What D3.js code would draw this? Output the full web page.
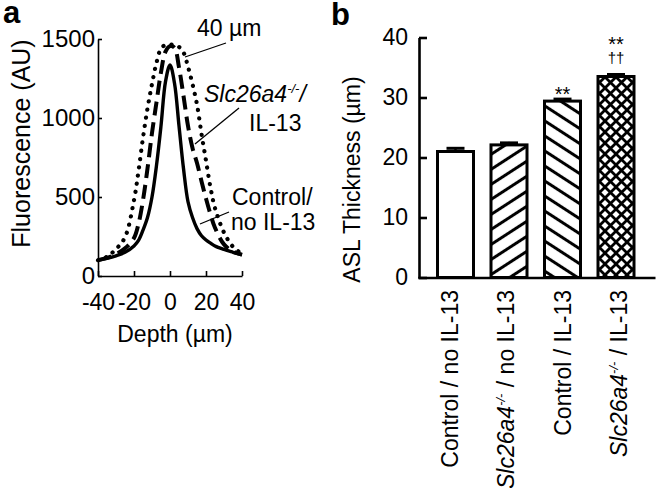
<!DOCTYPE html>
<html><head><meta charset="utf-8">
<script src="https://cdn.jsdelivr.net/npm/d3@7"></script>
<style>
html,body{margin:0;padding:0;background:#fff;}
svg{display:block;}
text{font-family:Arial,"Liberation Sans",Helvetica,sans-serif;fill:#000;}
</style></head>
<body><svg id="c" width="659" height="488"></svg>
<script>
// ---------- Panel a data ----------
const depth = [-40,-35,-30,-25,-20,-17.5,-15,-12.5,-10,-7.5,-5,-2.5,0,2.5,5,7.5,10,12.5,15,17.5,20,22.5,25,30,35,40];
const controlNoIL13 = [100,112,128,150,190,225,290,370,500,700,950,1230,1335,1220,950,680,470,370,300,255,228,208,190,168,150,133];
const slcIL13 = [100,115,138,175,240,330,480,680,905,1100,1290,1420,1455,1445,1320,1140,950,810,715,600,490,390,305,200,155,135];
const thick40 = [100,122,170,245,480,665,875,1060,1215,1350,1440,1462,1465,1462,1450,1415,1325,1215,1085,900,730,560,430,275,185,140];
const aYTicks = [0,500,1000,1500];
const aXTicks = [-40,-20,0,20,40];

// ---------- Panel b data ----------
const categories = ["ctrlNo","slcNo","ctrlIL","slcIL"];
const aslMean = [21.0,22.1,29.4,33.5];
const aslErr = [0.7,0.5,0.5,0.5];
const bYTicks = [0,10,20,30,40];
const stars = ["","","**","**"];
const daggers = ["","","","††"];
const patterns = ["none","fwd","back","cross"];

const svg = d3.select("#c");
svg.append("rect").attr("width",659).attr("height",488).attr("fill","#fff");

// ---------- patterns ----------
const defs = svg.append("defs");
function linePattern(id, angle, gap){
  const p = defs.append("pattern").attr("id",id).attr("patternUnits","userSpaceOnUse")
    .attr("width",10).attr("height",gap).attr("patternTransform",`rotate(${angle})`);
  p.append("rect").attr("width",10).attr("height",gap).attr("fill","#fff");
  p.append("line").attr("x1",0).attr("x2",10).attr("y1",gap/2).attr("y2",gap/2)
    .attr("stroke","#000").attr("stroke-width",3);
}
linePattern("fwd",-33,12.6);
linePattern("back",33,12.6);
{
  const p = defs.append("pattern").attr("id","cross").attr("patternUnits","userSpaceOnUse")
    .attr("width",11).attr("height",11);
  p.append("rect").attr("width",11).attr("height",11).attr("fill","#fff");
  p.append("path").attr("d","M-1,-1L12,12M-1,12L12,-1").attr("stroke","#000").attr("stroke-width",2.8);
}

// ---------- Panel a ----------
const xA = d3.scaleLinear().domain([-40,40]).range([98,242]);
const yA = d3.scaleLinear().domain([0,1500]).range([276,39]);

const gA = svg.append("g");
const axYA = gA.append("g").attr("transform",`translate(${xA(-40)},0)`)
  .call(d3.axisLeft(yA).tickValues(aYTicks).tickSizeInner(-4).tickSizeOuter(0).tickPadding(3).tickFormat(d3.format("d")));
const axXA = gA.append("g").attr("transform",`translate(0,${yA(0)})`)
  .call(d3.axisBottom(xA).tickValues(aXTicks).tickSizeInner(-5).tickSizeOuter(0).tickPadding(18).tickFormat(d=>String(d)));
[axYA,axXA].forEach(g=>{
  g.selectAll("path,line").attr("stroke","#000").attr("stroke-width",1.6);
  g.selectAll("text").attr("font-size",23).attr("font-family",'Arial,"Liberation Sans",sans-serif').attr("fill","#000");
});
axYA.selectAll("text").attr("font-size",24);

const lineGen = d3.line().x((d,i)=>xA(depth[i])).y(d=>yA(d)).curve(d3.curveCatmullRom.alpha(0.5));
gA.append("path").attr("d",lineGen(thick40)).attr("fill","none").attr("stroke","#000")
  .attr("stroke-width",4.2).attr("stroke-linecap","round").attr("stroke-dasharray","0.1 8.2");
gA.append("path").attr("d",lineGen(slcIL13)).attr("fill","none").attr("stroke","#000")
  .attr("stroke-width",4).attr("stroke-dasharray","14 7");
gA.append("path").attr("d",lineGen(controlNoIL13)).attr("fill","none").attr("stroke","#000")
  .attr("stroke-width",3.4);

// annotations panel a
gA.append("text").attr("x",197).attr("y",36).attr("font-size",23).text("40 µm");
gA.append("line").attr("x1",226).attr("y1",43).attr("x2",185).attr("y2",57).attr("stroke","#000").attr("stroke-width",1.3);
const tSlc = gA.append("text").attr("x",204).attr("y",102).attr("font-size",23).attr("font-style","italic");
tSlc.append("tspan").text("Slc26a4");
tSlc.append("tspan").attr("font-size",13).attr("dy",-9).text("-/-");
tSlc.append("tspan").attr("dy",9).text("/");
gA.append("text").attr("x",249).attr("y",131).attr("font-size",23).text("IL-13");
gA.append("line").attr("x1",239).attr("y1",108).attr("x2",195).attr("y2",144).attr("stroke","#000").attr("stroke-width",1.3);
gA.append("text").attr("x",232).attr("y",205).attr("font-size",23).text("Control/");
gA.append("text").attr("x",231).attr("y",230).attr("font-size",23).text("no IL-13");
gA.append("line").attr("x1",229).attr("y1",212).attr("x2",200).attr("y2",224).attr("stroke","#000").attr("stroke-width",1.3);

gA.append("text").attr("transform",`translate(30,${(yA(0)+yA(1500))/2 - 14}) rotate(-90)`)
  .attr("text-anchor","middle").attr("font-size",25).text("Fluorescence (AU)");
gA.append("text").attr("x",(xA(-40)+xA(40))/2 + 5).attr("y",342).attr("text-anchor","middle").attr("font-size",23).text("Depth (µm)");
gA.append("text").attr("x",3).attr("y",23).attr("font-size",31).attr("font-weight","bold").text("a");

// ---------- Panel b ----------
const yB = d3.scaleLinear().domain([0,40]).range([277.5,37.5]);
const xB = d3.scalePoint().domain(categories).range([455.5,616]);
const xLab = d3.scalePoint().domain(categories).range([458,627]);
const barW = 36;
const gB = svg.append("g");

gB.selectAll("rect.bar").data(categories).join("rect").attr("class","bar")
  .attr("x",d=>xB(d)-barW/2).attr("width",barW)
  .attr("y",(d,i)=>yB(aslMean[i])).attr("height",(d,i)=>yB(0)-yB(aslMean[i]))
  .attr("fill",(d,i)=>patterns[i]==="none"?"#fff":`url(#${patterns[i]})`)
  .attr("stroke","#000").attr("stroke-width",3);

// error bars
gB.selectAll("line.err").data(categories).join("line").attr("class","err")
  .attr("x1",d=>xB(d)).attr("x2",d=>xB(d))
  .attr("y1",(d,i)=>yB(aslMean[i])).attr("y2",(d,i)=>yB(aslMean[i]+aslErr[i]))
  .attr("stroke","#000").attr("stroke-width",2.5);
gB.selectAll("line.cap").data(categories).join("line").attr("class","cap")
  .attr("x1",d=>xB(d)-9).attr("x2",d=>xB(d)+9)
  .attr("y1",(d,i)=>yB(aslMean[i]+aslErr[i])+1).attr("y2",(d,i)=>yB(aslMean[i]+aslErr[i])+1)
  .attr("stroke","#000").attr("stroke-width",3);

const axYB = gB.append("g").attr("transform",`translate(419,0)`)
  .call(d3.axisLeft(yB).tickValues(bYTicks).tickSizeInner(-8).tickSizeOuter(0).tickPadding(11));
axYB.selectAll("path,line").attr("stroke","#000").attr("stroke-width",2.6);
axYB.selectAll("text").attr("font-size",23).attr("font-family",'Arial,"Liberation Sans",sans-serif').attr("fill","#000");
const axXB = gB.append("g").attr("transform",`translate(0,${yB(0)})`)
  .call(d3.axisBottom(d3.scaleLinear().range([417.7,655])).tickValues([]).tickSizeOuter(0));
axXB.selectAll("path").attr("stroke","#000").attr("stroke-width",2.6);

// significance marks
gB.selectAll("text.star").data(categories).join("text").attr("class","star")
  .attr("x",d=>xB(d)).attr("text-anchor","middle").attr("font-size",20).attr("fill","#000")
  .attr("y",(d,i)=>yB(aslMean[i]+aslErr[i]) - (daggers[i]? 23 : -3))
  .text((d,i)=>stars[i]);
gB.selectAll("text.dag").data(categories).join("text").attr("class","dag")
  .attr("x",d=>xB(d)).attr("text-anchor","middle").attr("font-size",15).attr("fill","#000")
  .attr("y",(d,i)=>yB(aslMean[i]+aslErr[i]) - 11)
  .text((d,i)=>daggers[i]);

// category labels
const labelParts = {
  ctrlNo:[["Control / no IL-13",""]],
  slcNo:[["Slc26a4","i"],["-/-","s"],[" / no IL-13",""]],
  ctrlIL:[["Control / IL-13",""]],
  slcIL:[["Slc26a4","i"],["-/-","s"],[" / IL-13",""]]
};
categories.forEach(c=>{
  const t = gB.append("text").attr("transform",`translate(${xLab(c)},290) rotate(-90)`)
    .attr("text-anchor","end").attr("font-size",23);
  let up=false;
  labelParts[c].forEach(([s,k])=>{
    const ts = t.append("tspan").text(s);
    if(k==="i") ts.attr("font-style","italic");
    if(k==="s"){ ts.attr("font-size",13).attr("dy",-9).attr("font-style","italic"); up=true; }
    else if(up){ ts.attr("dy",9); up=false; }
  });
});

gB.append("text").attr("transform",`translate(360,${(yB(0)+yB(40))/2 + 22}) rotate(-90)`)
  .attr("text-anchor","middle").attr("font-size",23).text("ASL Thickness (µm)");
gB.append("text").attr("x",331).attr("y",25).attr("font-size",31).attr("font-weight","bold").text("b");
</script></body></html>
